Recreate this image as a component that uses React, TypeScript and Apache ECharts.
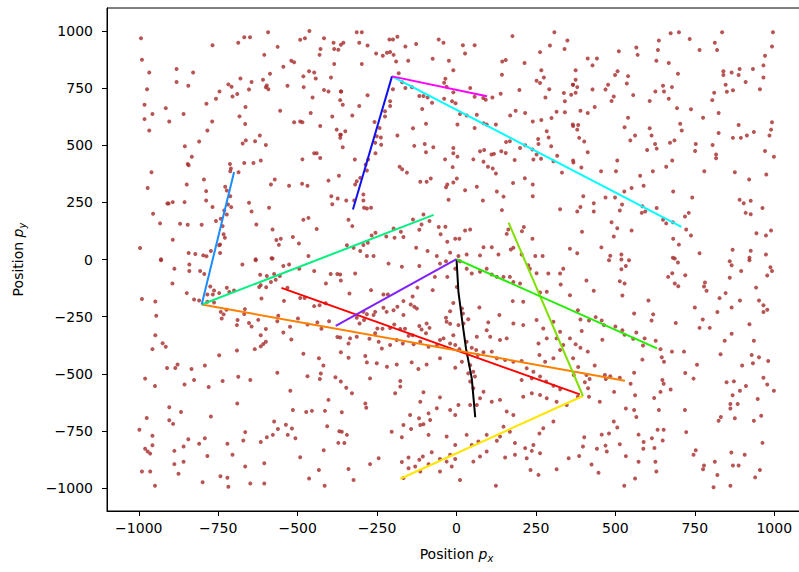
import React, { useEffect, useRef } from "react";
import * as echarts from "echarts";

const tickValues = [-1000, -750, -500, -250, 0, 250, 500, 750, 1000];

const clutter: number[][] = [
  [-993,968],[-990,874],[-967,818],[-974,745],[-982,677],[-957,636],[-982,614],[-967,564],[-915,662],[-904,604],
  [-881,833],[-881,776],[-844,760],[-829,818],[-859,636],[-855,495],[-833,449],[-846,418],[-843,412],[-810,516],
  [-787,681],[-784,564],[-769,604],[-757,703],[-746,735],[-768,937],[-718,766],[-708,756],[-705,713],[-690,724],
  [-687,948],[-668,972],[-650,972],[-680,792],[-653,744],[-645,776],[-664,667],[-683,626],[-665,593],[-593,994],
  [-605,895],[-563,930],[-545,843],[-520,869],[-511,863],[-609,786],[-587,812],[-600,753],[-592,745],[-597,761],
  [-555,651],[-532,760],[-511,600],[-492,604],[-485,600],[-492,961],[-477,968],[-463,999],[-417,968],[-431,895],
  [-428,921],[-387,948],[-385,921],[-372,917],[-385,855],[-482,801],[-464,823],[-448,818],[-443,792],[-395,796],
  [-481,754],[-453,709],[-417,741],[-403,735],[-364,735],[-459,641],[-429,584],[-391,625],[-377,568],[-364,546],
  [-366,532],[-673,507],[-663,521],[-634,517],[-619,542],[-600,501],[-668,422],[-639,422],[-616,433],[-713,418],
  [-710,398],[-712,386],[-686,382],[-448,465],[-440,465],[-429,444],[-485,438],[-960,382],[-972,313],[-849,328],
  [-795,350],[-788,299],[-788,258],[-768,230],[-728,318],[-723,302],[-712,277],[-719,241],[-709,229],[-723,197],
  [-731,214],[-742,178],[-757,168],[-736,146],[-733,110],[-729,95],[-744,66],[-747,62],[-744,28],[-773,37],
  [-584,328],[-572,350],[-527,323],[-486,331],[-469,323],[-403,345],[-370,366],[-394,277],[-374,267],[-391,242],
  [-653,248],[-645,210],[-590,226],[-630,153],[-579,131],[-567,85],[-553,91],[-559,64],[-515,98],[-496,70],
  [-482,174],[-466,182],[-440,133],[-466,15],[-955,200],[-933,158],[-910,245],[-906,245],[-893,251],[-856,251],
  [-870,156],[-846,152],[-802,152],[-893,86],[-996,50],[-843,28],[-822,24],[-797,18],[-787,14],[-930,1],
  [-582,5],[-632,1],
  [-314,994],[-298,994],[-356,948],[-364,939],[-306,948],[-280,936],[-298,855],[-253,901],[-232,891],[-219,904],
  [-209,908],[-198,895],[-211,962],[-200,962],[-186,974],[-161,932],[-190,866],[-152,869],[-127,943],[-75,878],
  [-56,962],[-41,948],[-24,869],[-10,828],[20,937],[27,901],[57,937],[-363,735],[-358,677],[-366,697],
  [-306,671],[-328,630],[-280,718],[-209,692],[-209,671],[-225,648],[-225,625],[-258,601],[-242,575],[-251,539],
  [-238,534],[-237,502],[-255,465],[-256,511],[-278,437],[-286,415],[-282,389],[-303,357],[-314,342],[-319,328],
  [-293,284],[-293,258],[-291,226],[-282,223],[-269,226],[-347,258],[-322,258],[-340,174],[-328,146],[-358,491],
  [-350,561],[-366,546],[-320,437],[-182,815],[-171,775],[-200,745],[-161,750],[-140,753],[-117,715],[-104,715],
  [-91,709],[-77,686],[-108,658],[-96,594],[-137,574],[-186,542],[-133,497],[-100,505],[-96,469],[-73,491],
  [-39,773],[-31,756],[-35,791],[-10,731],[-39,703],[-14,692],[-3,683],[11,636],[32,630],[3,590],
  [43,750],[57,712],[64,633],[85,596],[95,590],[124,590],[84,706],[92,699],[113,709],[57,575],
  [-10,488],[-10,465],[3,450],[-36,438],[-12,404],[53,438],[74,473],[87,479],[85,428],[99,406],
  [110,459],[118,462],[114,398],[124,376],[141,473],[155,466],[168,517],[183,435],[200,488],[216,500],
  [242,437],[239,481],[252,459],[266,441],[-179,406],[-171,395],[-156,380],[-114,340],[-94,340],[-81,354],
  [-29,328],[-33,316],[-10,337],[1,354],[27,303],[64,318],[-25,261],[83,258],[127,297],[148,275],
  [143,216],[178,335],[215,355],[240,328],[240,277],[326,220],[332,380],[368,424],[305,430],[317,454],
  [298,495],[258,505],[257,527],[284,561],[290,534],[267,610],[299,619],[315,646],[341,644],[240,604],
  [216,641],[186,651],[169,630],[156,514],[176,977],[144,866],[155,873],[143,808],[198,741],[214,859],
  [263,907],[267,828],[275,796],[252,782],[294,936],[308,994],[340,921],[349,958],[292,745],[280,709],
  [338,728],[366,764],[361,721],[341,692],[366,590],[263,772],[139,725],
  [-345,62],[-324,51],[-303,37],[-293,63],[-279,73],[-267,105],[-255,117],[-282,15],[-261,15],[-221,101],
  [-198,136],[-195,95],[-167,98],[-175,121],[-137,175],[-110,153],[-117,130],[-104,197],[-85,168],[-56,142],
  [-35,143],[-29,78],[-4,91],[9,91],[27,127],[43,131],[74,18],[85,54],[111,54],[158,112],
  [163,131],[171,44],[179,51],[206,124],[212,142],[239,91],[248,15],[271,15],[357,47],[-127,51],
  [-91,37],[-62,15],[6,15],[-20,30],[32,22],[-50,110],[132,22],[205,22],
  [674,990],[700,994],[836,994],[996,994],[734,964],[637,958],[813,948],[765,916],[820,916],[993,932],
  [511,911],[566,927],[570,895],[634,916],[413,879],[442,879],[428,849],[629,869],[668,859],[375,828],
  [507,823],[499,807],[540,802],[697,812],[840,823],[840,807],[866,818],[891,833],[888,807],[933,833],
  [966,849],[971,891],[966,796],[910,776],[375,786],[367,764],[380,754],[375,729],[428,744],[469,744],
  [477,764],[536,770],[495,713],[488,693],[556,719],[608,693],[626,735],[650,760],[653,735],[678,754],
  [668,703],[847,764],[851,734],[870,740],[811,729],[805,697],[955,745],[435,667],[390,651],[413,641],
  [540,620],[529,578],[694,662],[738,657],[776,620],[825,641],[367,584],[383,588],[380,568],[386,532],
  [402,516],[413,469],[547,521],[562,542],[608,574],[614,542],[625,505],[630,485],[600,479],[672,511],
  [686,521],[704,594],[709,564],[753,505],[751,475],[806,501],[817,459],[817,443],[825,553],[888,588],
  [870,532],[895,532],[914,542],[936,558],[993,600],[990,568],[985,542],[971,475],[999,449],[367,433],
  [393,402],[455,386],[502,386],[506,433],[618,386],[679,433],[660,406],[780,386],[578,366],[589,323],
  [551,313],[528,297],[682,297],[742,271],[876,382],[921,350],[975,372],[891,261],[904,246],[926,257],
  [910,204],[926,198],[963,225],[399,277],[432,246],[432,210],[390,230],[380,210],[469,271],[499,271],
  [521,241],[514,214],[488,163],[506,137],[495,101],[551,127],[630,225],[583,204],[594,210],[585,233],
  [650,174],[660,158],[681,163],[719,188],[731,204],[723,131],[738,105],[682,91],[700,65],[395,121],
  [456,53],[484,16],[519,22],[380,27],[765,27],[869,43],[926,38],[944,115],[974,105],[990,127],
  [974,22],[681,8],[922,8],
  [-930,-3],[-841,-22],[-841,-50],[-888,-40],[-807,-50],[-794,-63],[-894,-105],[-849,-147],[-826,-175],[-810,-179],
  [-990,-173],[-948,-184],[-945,-246],[-948,-331],[-925,-366],[-915,-382],[-957,-392],[-784,-153],[-767,-153],[-763,-136],
  [-747,-147],[-775,-118],[-784,-185],[-763,-188],[-723,-124],[-715,-142],[-700,-136],[-674,-22],[-632,-3],[-579,4],
  [-545,-28],[-527,-22],[-495,-40],[-448,-50],[-396,-63],[-375,-63],[-411,-105],[-364,-92],[-618,-67],[-597,-72],
  [-574,-63],[-556,-72],[-616,-112],[-599,-121],[-621,-120],[-584,-98],[-569,-89],[-614,-171],[-543,-181],[-492,-168],
  [-478,-168],[-448,-204],[-431,-200],[-412,-191],[-532,-124],[-742,-229],[-733,-240],[-739,-258],[-724,-220],[-689,-265],
  [-691,-287],[-668,-238],[-666,-217],[-653,-278],[-645,-293],[-624,-264],[-600,-304],[-616,-331],[-600,-360],[-608,-370],
  [-616,-380],[-635,-392],[-691,-398],[-747,-419],[-561,-246],[-564,-270],[-545,-319],[-520,-350],[-524,-294],[-499,-258],
  [-469,-284],[-438,-275],[-425,-303],[-401,-270],[-375,-339],[-364,-406],[-433,-432],[-419,-464],[-482,-412],[-564,-495],
  [-469,-511],[-427,-499],[-430,-523],[-381,-515],[-523,-574],[-403,-614],[-364,-534],[-911,-475],[-885,-475],[-878,-459],
  [-834,-479],[-792,-464],[-826,-527],[-856,-547],[-780,-558],[-736,-531],[-687,-513],[-649,-527],[-949,-553],[-980,-521],
  [-904,-646],[-867,-667],[-904,-703],[-892,-719],[-975,-693],[-998,-745],[-957,-771],[-957,-812],[-980,-828],[-972,-840],
  [-964,-849],[-990,-927],[-964,-927],[-949,-990],[-888,-837],[-888,-895],[-875,-937],[-859,-885],[-859,-818],[-844,-786],
  [-810,-806],[-792,-782],[-784,-859],[-773,-687],[-690,-630],[-665,-755],[-671,-792],[-721,-806],[-705,-854],[-743,-948],
  [-721,-955],[-718,-994],[-799,-974],[-665,-905],[-649,-980],[-605,-980],[-605,-891],[-616,-798],[-597,-777],[-578,-767],
  [-574,-709],[-562,-741],[-537,-723],[-531,-767],[-518,-739],[-507,-782],[-515,-658],[-473,-667],[-455,-662],[-414,-662],
  [-407,-729],[-369,-751],[-372,-802],[-418,-834],[-492,-865],[-433,-921],[-464,-958],[-415,-990],
  [-214,-18],[-172,-32],[-117,-28],[-52,-18],[-33,-8],[-319,-61],[-366,-66],[-269,-134],[-337,-149],[-230,-153],
  [-216,-153],[-167,-182],[-144,-197],[-138,-162],[-133,-207],[-125,-214],[-167,-243],[-186,-207],[-198,-222],[-220,-229],
  [-230,-211],[-256,-229],[-293,-229],[-282,-239],[-261,-243],[-314,-255],[-305,-280],[-291,-265],[-123,-123],[-75,-134],
  [-68,-76],[-29,-76],[-4,-40],[11,-8],[32,-40],[48,-61],[74,-54],[95,-40],[111,-66],[127,-76],
  [148,-76],[168,-76],[179,-98],[200,-105],[226,-25],[231,-40],[252,-60],[289,-61],[326,-61],[336,-40],
  [328,-109],[357,-156],[263,-144],[284,-141],[210,-185],[177,-182],[135,-243],[100,-275],[72,-210],[37,-261],
  [6,-287],[-10,-331],[-20,-281],[-31,-272],[-33,-255],[-20,-226],[-10,-190],[1,-120],[17,-214],[20,-236],
  [22,-280],[-94,-280],[-117,-291],[-110,-306],[-96,-323],[-85,-299],[-138,-331],[-151,-334],[-162,-303],[-177,-304],
  [-196,-284],[-209,-300],[-233,-303],[-249,-302],[-256,-323],[-274,-347],[-335,-345],[-314,-338],[-340,-367],[-366,-341],
  [-245,-360],[-235,-389],[-209,-374],[-188,-352],[-169,-367],[-135,-371],[-114,-360],[-88,-382],[-62,-377],[-52,-352],
  [-41,-345],[-20,-367],[-4,-374],[9,-392],[32,-360],[48,-386],[62,-396],[67,-418],[85,-406],[111,-403],
  [127,-432],[153,-440],[179,-447],[205,-444],[221,-476],[242,-491],[263,-512],[282,-534],[305,-552],[326,-568],
  [205,-527],[237,-520],[261,-418],[279,-447],[305,-432],[326,-396],[336,-374],[315,-345],[326,-316],[357,-345],
  [305,-272],[284,-345],[258,-367],[273,-302],[252,-265],[210,-287],[179,-280],[158,-345],[137,-352],[106,-338],
  [95,-309],[64,-338],[-340,-430],[-287,-422],[-282,-450],[-251,-454],[-219,-469],[-188,-459],[-141,-450],[-120,-479],
  [-94,-459],[-52,-432],[-4,-473],[17,-447],[43,-462],[53,-491],[58,-512],[37,-498],[43,-534],[53,-563],
  [74,-607],[64,-636],[43,-636],[6,-636],[-20,-658],[-4,-680],[-62,-651],[-88,-673],[-83,-702],[-118,-694],
  [-104,-721],[-146,-680],[-167,-724],[-204,-753],[-172,-777],[-143,-741],[-114,-724],[-88,-767],[-272,-520],[-347,-561],
  [-329,-585],[-177,-531],[-177,-556],[-193,-585],[-104,-581],[-114,-622],[-52,-603],[-287,-630],[-284,-648],[-361,-668],
  [85,-578],[111,-622],[137,-614],[158,-665],[179,-680],[210,-600],[237,-585],[263,-593],[284,-607],[315,-622],
  [347,-636],[305,-709],[273,-738],[261,-761],[242,-811],[216,-825],[184,-803],[168,-753],[148,-731],[137,-774],
  [127,-793],[95,-767],[69,-796],[48,-811],[32,-767],[-4,-811],[-31,-774],[-20,-854],[-4,-873],[-31,-884],
  [-52,-873],[-78,-843],[-106,-862],[-117,-876],[-151,-866],[-172,-886],[-167,-956],[-151,-913],[-130,-905],[-114,-927],
  [-88,-895],[-52,-927],[-15,-905],[11,-964],[53,-884],[74,-862],[95,-840],[153,-866],[184,-854],[221,-869],
  [237,-837],[263,-847],[315,-917],[233,-921],[258,-942],[353,-869],[124,-990],[-340,-916],[-324,-964],[-272,-895],
  [-245,-869],[-345,-767],[-353,-803],[-361,-753],
  [480,-3],[519,0],[543,-3],[533,-28],[519,-43],[514,-95],[529,-105],[522,-157],[409,-92],[432,-137],
  [604,-179],[559,-236],[619,-240],[614,-267],[687,4],[697,-13],[679,-60],[666,-76],[687,-105],[698,-117],
  [720,-69],[782,-101],[779,-118],[787,-137],[750,-210],[775,-262],[765,-299],[797,-299],[690,-278],[860,-8],
  [866,-25],[896,-50],[922,-3],[988,-34],[993,-50],[978,-70],[943,-123],[860,-80],[847,-147],[828,-169],
  [821,-230],[866,-210],[892,-179],[952,-179],[966,-200],[978,-220],[966,-230],[922,-283],[866,-325],[844,-355],
  [936,-355],[831,-414],[929,-418],[952,-428],[981,-444],[933,-454],[899,-464],[382,-222],[390,-262],[417,-267],
  [438,-252],[457,-267],[464,-287],[500,-293],[522,-309],[529,-329],[556,-347],[566,-319],[592,-345],[587,-376],
  [627,-355],[394,-313],[459,-351],[375,-371],[390,-386],[413,-403],[435,-464],[367,-432],[383,-470],[369,-505],
  [409,-505],[419,-523],[404,-537],[467,-505],[470,-523],[484,-511],[514,-517],[414,-563],[417,-600],[382,-600],
  [451,-622],[496,-579],[548,-543],[559,-495],[585,-438],[642,-392],[646,-428],[653,-447],[678,-403],[716,-403],
  [648,-527],[652,-543],[642,-579],[622,-606],[562,-594],[674,-569],[720,-496],[746,-521],[757,-460],[533,-652],
  [559,-658],[566,-689],[637,-658],[719,-658],[850,-537],[873,-533],[911,-553],[892,-574],[869,-594],[862,-632],
  [885,-632],[862,-652],[832,-689],[825,-705],[876,-694],[948,-610],[959,-683],[936,-705],[978,-547],[999,-574],
  [966,-517],[495,-709],[506,-735],[480,-761],[457,-766],[402,-777],[398,-818],[386,-859],[442,-828],[469,-814],
  [473,-840],[514,-808],[533,-860],[425,-897],[447,-933],[573,-766],[589,-798],[588,-828],[615,-782],[623,-824],
  [633,-745],[652,-745],[649,-792],[723,-755],[753,-834],[746,-854],[573,-885],[626,-885],[629,-927],[562,-958],
  [528,-990],[813,-885],[779,-901],[776,-917],[821,-943],[865,-844],[870,-901],[888,-901],[907,-854],[963,-802],
  [955,-921],[940,-953],[809,-996],[862,-990]
];

// Tracks (polylines)
const trackBlack = [[0, 2], [6, -140], [18, -270], [30, -390], [48, -520], [59, -690]];
const trackRed = [[-551, -124], [388, -590]];
const trackOrange = [[-802, -197], [530, -530]];
const trackYellow = [[398, -597], [-177, -959]];
const trackChartreuse = [[164, 161], [398, -597]];
const trackGreen = [[0, 2], [631, -389]];
const trackSpring = [[-802, -197], [-72, 195]];
const trackCyan = [[-203, 801], [708, 143]];
const trackAzure = [[-802, -197], [-700, 383]];
const trackBlue = [[-326, 219], [-203, 801]];
const trackViolet = [[-380, -290], [0, 2]];
const trackMagenta = [[-203, 801], [96, 714]];

const tracks = [
  trackBlack, trackRed, trackOrange, trackYellow, trackChartreuse, trackGreen,
  trackSpring, trackCyan, trackAzure, trackBlue, trackViolet, trackMagenta,
];
const trackColors = [
  "#000000", "#ff0000", "#ff8000", "#ffe600", "#80e000", "#22ee00",
  "#00f080", "#00ffff", "#1a8cff", "#1010f0", "#8020ff", "#ff00ff",
];

const FONT = "DejaVu Sans";

export default function App() {
  const ref = useRef<HTMLDivElement>(null);
  useEffect(() => {
    if (!ref.current) return;
    const chart = echarts.init(ref.current, undefined, { renderer: "svg" });
    const fmt = (v: number) => String(v).replace("-", "\u2212");
    const axisCommon = {
      type: "value" as const,
      min: -1100,
      max: 1100,
      splitLine: { show: false },
      axisLine: { show: true, onZero: false, lineStyle: { color: "#000", width: 1 } },
      axisTick: { show: true, length: 5, customValues: tickValues, lineStyle: { color: "#000", width: 1 } },
    };
    const richName = {
      n: { fontFamily: FONT, fontSize: 14, color: "#000" },
      p: { fontFamily: FONT, fontSize: 14, fontStyle: "italic", color: "#000" },
      s: { fontFamily: FONT, fontSize: 10, fontStyle: "italic", color: "#000", padding: [9, 0, 0, 0] },
    };
    chart.setOption({
      animation: false,
      grid: {
        left: 107, top: 8, width: 699, height: 503,
        show: true, borderColor: "#000", borderWidth: 1, backgroundColor: "#fff",
      },
      xAxis: {
        ...axisCommon,
        axisLabel: {
          customValues: tickValues, formatter: fmt, color: "#000",
          fontFamily: FONT, fontSize: 14, margin: 10,
        },
        name: "{n|Position }{p|p}{s|x}",
        nameLocation: "middle",
        nameGap: 33,
        nameTextStyle: { color: "#000", rich: richName },
      },
      yAxis: {
        ...axisCommon,
        axisLabel: {
          customValues: tickValues, formatter: fmt, color: "#000",
          fontFamily: FONT, fontSize: 14, margin: 14,
        },
        name: "{n|Position }{p|p}{s|y}",
        nameLocation: "middle",
        nameGap: 80,
        nameTextStyle: { color: "#000", rich: richName },
      },
      series: [
        {
          type: "scatter",
          data: clutter,
          symbol: "circle",
          symbolSize: 4,
          itemStyle: { color: "#a52a2a" },
          z: 2,
          silent: true,
        },
        ...tracks.map((t, i) => ({
          type: "line",
          data: t,
          showSymbol: false,
          symbol: "none",
          lineStyle: { color: trackColors[i], width: 2 },
          z: 3,
          silent: true,
        })),
      ],
    });
    return () => chart.dispose();
  }, []);
  return (
    <div
      ref={ref}
      style={{ position: "fixed", left: 0, top: 0, width: 812, height: 572, background: "#fff" }}
    />
  );
}
